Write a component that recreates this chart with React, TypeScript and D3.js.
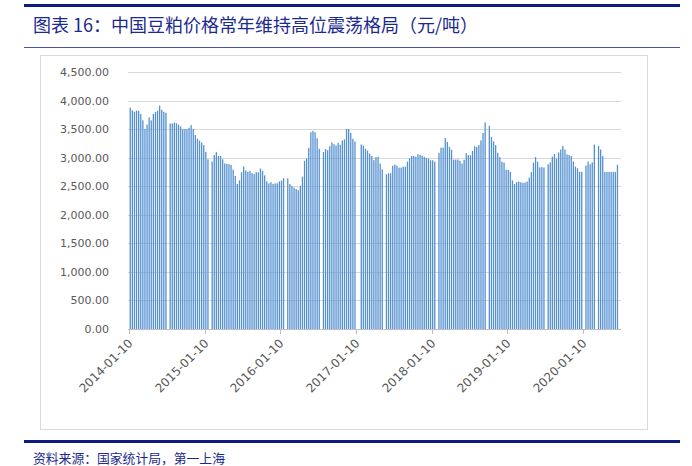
import React from "react";
import * as d3 from "d3";

const values: (number | null)[] = [
  3877, 3830, 3805, 3825, 3820, 3763, 3655, 3502, 3580, 3705, 3652, 3763, 3800, 3822, 3910, 3836, 3804, 3786, null, 3598,
  3598, 3615, 3603, 3580, 3546, 3500, 3500, 3500, 3523, 3569, 3500, 3397, 3333, 3299, 3264, 3218, 3103, 2971, null, 2931,
  3046, 3098, 3029, 3029, 2971, 2897, 2891, 2885, 2874, 2790, 2680, 2540, 2603, 2747, 2845, 2776, 2753, 2770, 2730, 2713,
  2747, 2741, 2810, 2770, 2690, 2586, 2550, 2570, 2540, 2550, 2550, 2585, 2600, 2640, null, 2636, 2538, 2505, 2475, 2452,
  2430, 2505, 2668, 2945, 2983, 3172, 3446, 3470, 3446, 3340, 3155, null, 3098, 3152, 3130, 3200, 3268, 3237, 3212, 3260,
  3225, 3301, 3320, 3502, 3502, 3432, 3328, 3285, null, null, 3231, 3210, 3158, 3124, 3072, 3028, 2957, 3010, 3015, 2897,
  2796, null, 2710, 2727, 2728, 2860, 2879, 2860, 2826, 2826, 2842, 2842, 2930, 2990, 3029, 3029, 3015, 3060, 3050, 3035,
  3015, 2995, 2985, 2954, 2954, 2930, null, 3083, 3175, 3175, 3343, 3277, 3190, 3139, 2965, 2968, 2968, 2945, 2897, 2962,
  3078, 3043, 3043, 3118, 3200, 3188, 3222, 3303, 3432, 3617, null, 3558, 3360, 3285, 3220, 3084, 3008, 2930, 2913, 2787,
  2787, 2753, 2603, 2540, 2572, 2582, 2570, 2559, 2565, 2582, 2650, 2746, 2913, 3010, 2930, 2830, 2833, 2828, null, 2882,
  2918, 3016, 3063, 2983, 3090, 3143, 3206, 3143, 3058, 3047, 3028, 2932, 2845, 2814, 2753, 2753, null, 2862, 2931, 2885,
  2917, 3229, null, 3206, 3143, 3029, 2750, 2750, 2750, 2750, 2750, 2750, 2876,
];

const years = [2014, 2015, 2016, 2017, 2018, 2019, 2020];
const periodDays = [10, 20, 30];
const yTicks = [0, 500, 1000, 1500, 2000, 2500, 3000, 3500, 4000, 4500];

const pad = (n: number) => (n < 10 ? "0" + n : "" + n);
const categories: string[] = [];
for (const y of years) {
  for (let m = 1; m <= 12; m++) {
    for (const d of periodDays) {
      if (categories.length < values.length) categories.push(`${y}-${pad(m)}-${pad(d)}`);
    }
  }
}
const tickLabels = years.map((y) => `${y}-01-10`);

const W = 692;
const H = 466;
const navy = "#1b2a8e";

export default function App() {
  const x = d3.scaleBand<string>().domain(categories).range([129.2, 129.2 + 2.1 * categories.length]).paddingInner(0.38).paddingOuter(0.19);
  const y = d3.scaleLinear().domain([0, 4500]).range([329, 72]);
  const fmt = d3.format(",.2f");
  const step = x.step();
  const left = x.range()[0];

  return (
    <svg width={W} height={H} style={{ position: "absolute", left: 0, top: 0, background: "#fff" }}>
      <rect x={0} y={0} width={W} height={H} fill="#fff" />
      {/* header */}
      <line x1={24} x2={680} y1={5.5} y2={5.5} stroke="#0d1a80" strokeWidth={3} />
      <text x={33} y={32} fontFamily="'Noto Sans CJK SC', sans-serif" fontSize={18} fill={navy}>
        图表 16：中国豆粕价格常年维持高位震荡格局（元/吨）
      </text>
      <line x1={24} x2={680} y1={47.5} y2={47.5} stroke="#4a55a0" strokeWidth={1} />

      {/* chart frame */}
      <rect x={40.5} y={55.5} width={607} height={374} fill="#fff" stroke="#d9d9d9" strokeWidth={1} />

      {/* gridlines and y labels */}
      {yTicks.map((t) => (
        <g key={t}>
          {t > 0 && <line x1={128} x2={621} y1={Math.round(y(t)) + 0.5} y2={Math.round(y(t)) + 0.5} stroke="#d9d9d9" strokeWidth={1} />}
          <text x={109} y={y(t) + 4} textAnchor="end" fontFamily="'DejaVu Sans', sans-serif" fontSize={11} fill="#595959">
            {fmt(t)}
          </text>
        </g>
      ))}

      {/* bars */}
      {values.map((v, i) =>
        v == null ? null : (
          <rect key={i} x={x(categories[i])} y={y(v)} width={x.bandwidth()} height={y(0) - y(v)} fill="#5590d0" />
        )
      )}

      {/* x axis */}
      <line x1={128} x2={621} y1={329.5} y2={329.5} stroke="#bfbfbf" strokeWidth={1} />
      {years.map((yr, k) => {
        const idx = categories.indexOf(tickLabels[k]);
        const tx = Math.round(left + idx * step) + 0.5;
        return (
          <g key={yr}>
            <line x1={tx} x2={tx} y1={329.5} y2={334} stroke="#bfbfbf" strokeWidth={1} />
            <text
              transform={`translate(${tx + 4},${344}) rotate(-45)`}
              textAnchor="end"
              fontFamily="'DejaVu Sans', sans-serif"
              fontSize={12}
              fill="#595959"
            >
              {tickLabels[k]}
            </text>
          </g>
        );
      })}

      {/* footer */}
      <line x1={24} x2={680} y1={441.5} y2={441.5} stroke="#0d1a80" strokeWidth={3} />
      <text x={33} y={463} fontFamily="'Noto Sans CJK SC', sans-serif" fontSize={12.8} fill={navy}>
        资料来源：国家统计局，第一上海
      </text>
    </svg>
  );
}
